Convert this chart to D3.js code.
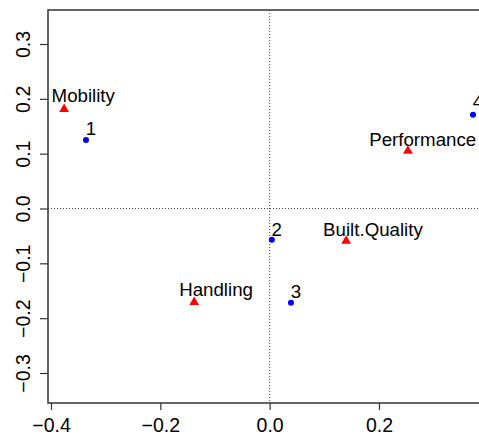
<!DOCTYPE html>
<html>
<head>
<meta charset="utf-8">
<script src="https://cdn.jsdelivr.net/npm/d3@7"></script>
<style>
  body { margin: 0; background: #fff; }
  text { font-family: "Liberation Sans", Arial, sans-serif; }
</style>
</head>
<body>
<div id="chart"></div>
<script>
// row points (blue)
const rowNames = ["1", "2", "3", "4"];
const rowX = [-0.336, 0.004, 0.039, 0.372];
const rowY = [0.125, -0.057, -0.172, 0.171];
const rowLabelX = [-0.327, 0.013, 0.048, 0.381];
const rowLabelY = [0.134, -0.050, -0.163, 0.183];

// column points (red)
const colNames = ["Mobility", "Performance", "Built.Quality", "Handling"];
const colX = [-0.376, 0.253, 0.140, -0.138];
const colY = [0.181, 0.105, -0.059, -0.171];
const colLabelX = [-0.341, 0.280, 0.189, -0.098];
const colLabelY = [0.194, 0.114, -0.050, -0.160];

const xTicks = [-0.4, -0.2, 0.0, 0.2];
const yTicks = [-0.3, -0.2, -0.1, 0.0, 0.1, 0.2, 0.3];

(function() {
  const W = 479, H = 437;
  const box = {left: 48, top: 10, bottom: 403, right: 479};

  const svg = d3.select("#chart").append("svg").attr("width", W).attr("height", H);

  const x = d3.scaleLinear().domain([-0.4055, 0.383]).range([box.left, box.right]);
  const y = d3.scaleLinear().domain([-0.3547, 0.362]).range([box.bottom, box.top]);

  const fmt = d => d3.format(".1f")(d).replace("-", "\u2212").replace("\u22120.0", "0.0");

  // reference lines at zero
  svg.append("line")
    .attr("x1", x(0)).attr("x2", x(0)).attr("y1", box.top).attr("y2", box.bottom)
    .attr("stroke", "#444").attr("stroke-width", 1).attr("stroke-dasharray", "1,2");
  svg.append("line")
    .attr("x1", box.left).attr("x2", box.right).attr("y1", y(0)).attr("y2", y(0))
    .attr("stroke", "#444").attr("stroke-width", 1).attr("stroke-dasharray", "1,2");

  // axes
  const xAxis = svg.append("g").attr("transform", "translate(0," + box.bottom + ")")
    .call(d3.axisBottom(x).tickValues(xTicks).tickSize(7).tickSizeOuter(0).tickFormat(fmt));
  xAxis.select(".domain").remove();
  xAxis.selectAll("line").attr("stroke", "#333").attr("stroke-width", 1.2);
  xAxis.selectAll("text").attr("font-size", "19.5px").attr("fill", "#000")
    .attr("y", 29).attr("dy", 0);

  const yAxis = svg.append("g").attr("transform", "translate(" + box.left + ",0)")
    .call(d3.axisLeft(y).tickValues(yTicks).tickSize(8).tickSizeOuter(0).tickFormat(fmt));
  yAxis.select(".domain").remove();
  yAxis.selectAll("line").attr("stroke", "#333").attr("stroke-width", 1.2);
  yAxis.selectAll("text")
    .attr("font-size", "19.5px").attr("fill", "#000")
    .attr("x", 0).attr("y", 0).attr("dy", 0)
    .attr("text-anchor", "middle")
    .attr("transform", "translate(-18,0) rotate(-90)");

  // plot frame (right side runs off the picture)
  svg.append("path")
    .attr("d", "M" + (box.right + 2) + "," + box.top + "H" + box.left + "V" + box.bottom + "H" + (box.right + 2))
    .attr("fill", "none").attr("stroke", "#333").attr("stroke-width", 1.5);

  // row points
  svg.selectAll("circle.row").data(rowNames).enter().append("circle")
    .attr("class", "row")
    .attr("cx", (d, i) => x(rowX[i])).attr("cy", (d, i) => y(rowY[i]))
    .attr("r", 3).attr("fill", "#0000ff");

  svg.selectAll("text.rowlab").data(rowNames).enter().append("text")
    .attr("class", "rowlab")
    .attr("x", (d, i) => x(rowLabelX[i])).attr("y", (d, i) => y(rowLabelY[i]))
    .attr("text-anchor", "middle").attr("font-size", "18.7px").text(d => d);

  // column points
  const tri = d3.symbol().type(d3.symbolTriangle).size(42);
  svg.selectAll("path.col").data(colNames).enter().append("path")
    .attr("class", "col")
    .attr("d", tri)
    .attr("transform", (d, i) => "translate(" + x(colX[i]) + "," + y(colY[i]) + ")")
    .attr("fill", "#ff0000");

  svg.selectAll("text.collab").data(colNames).enter().append("text")
    .attr("class", "collab")
    .attr("x", (d, i) => x(colLabelX[i])).attr("y", (d, i) => y(colLabelY[i]))
    .attr("text-anchor", "middle").attr("font-size", "18.7px").text(d => d);
})();
</script>
</body>
</html>
